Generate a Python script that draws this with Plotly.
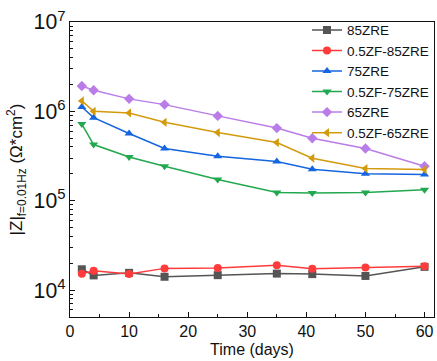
import plotly.graph_objects as go

days = [2, 4, 10, 16, 25, 35, 41, 50, 60]
z_85zre = [1.71e4, 1.46e4, 1.56e4, 1.41e4, 1.47e4, 1.53e4, 1.51e4, 1.44e4, 1.82e4]
z_05zf_85zre = [1.52e4, 1.65e4, 1.51e4, 1.75e4, 1.77e4, 1.90e4, 1.73e4, 1.79e4, 1.85e4]
z_75zre = [1.12e6, 8.5e5, 5.65e5, 3.84e5, 3.15e5, 2.74e5, 2.25e5, 2.01e5, 1.96e5]
z_05zf_75zre = [7.2e5, 4.25e5, 3.09e5, 2.43e5, 1.73e5, 1.24e5, 1.22e5, 1.24e5, 1.33e5]
z_65zre = [1.92e6, 1.72e6, 1.38e6, 1.19e6, 8.9e5, 6.5e5, 5.0e5, 3.84e5, 2.43e5]
z_05zf_65zre = [1.31e6, 1.0e6, 9.6e5, 7.55e5, 5.8e5, 4.48e5, 2.99e5, 2.29e5, 2.23e5]

series = [
    ("85ZRE", z_85zre, "#555555", "square"),
    ("0.5ZF-85ZRE", z_05zf_85zre, "#ff3b3b", "circle"),
    ("75ZRE", z_75zre, "#1565e0", "triangle-up"),
    ("0.5ZF-75ZRE", z_05zf_75zre, "#22a84e", "triangle-down"),
    ("65ZRE", z_65zre, "#b97ce8", "diamond"),
    ("0.5ZF-65ZRE", z_05zf_65zre, "#d49a0e", "triangle-left"),
]

fig = go.Figure()
for name, vals, color, sym in series:
    fig.add_trace(go.Scatter(
        x=days, y=vals, name=name, mode="lines+markers",
        line=dict(color=color, width=1.5),
        marker=dict(symbol=sym, size=8, color=color),
    ))

font = dict(family="Liberation Sans, Arial, sans-serif", color="#111111")
fig.update_layout(
    width=437, height=361,
    margin=dict(l=70, r=3, t=22, b=44),
    paper_bgcolor="white", plot_bgcolor="white",
    font=dict(size=15, **font),
    showlegend=True,
    legend=dict(x=1, xanchor="right", y=1.025, yanchor="top",
                bgcolor="rgba(0,0,0,0)", font=dict(size=13.5, **font),
                tracegroupgap=0, itemwidth=30),
    xaxis=dict(
        range=[0, 61.6], tickvals=[0, 10, 20, 30, 40, 50, 60],
        ticks="inside", ticklen=5, tickwidth=1.2, tickcolor="#111",
        minor=dict(tickvals=[5, 15, 25, 35, 45, 55], ticks="inside", ticklen=3, tickcolor="#111"),
        showline=True, linecolor="#111", linewidth=1.2, mirror=True,
        showgrid=False, zeroline=False,
        title=dict(text="Time (days)", font=dict(size=16, **font), standoff=4),
        tickfont=dict(size=16, **font),
    ),
    yaxis=dict(
        type="log", range=[3.699, 7], dtick=1, exponentformat="power",
        ticks="inside", ticklen=5, tickwidth=1.2, tickcolor="#111",
        minor=dict(ticks="inside", ticklen=3, tickcolor="#111", showgrid=False),
        showline=True, linecolor="#111", linewidth=1.2, mirror=True,
        showgrid=False, zeroline=False,
        title=dict(text="|Z|<sub>f=0.01Hz</sub> (Ω*cm<sup>2</sup>)", font=dict(size=17, **font), standoff=6),
        tickfont=dict(size=17, **font),
    ),
)

fig.write_html("out.html", config={"displayModeBar": False},
               post_script="document.body.style.margin='0';document.body.style.padding='0';")
